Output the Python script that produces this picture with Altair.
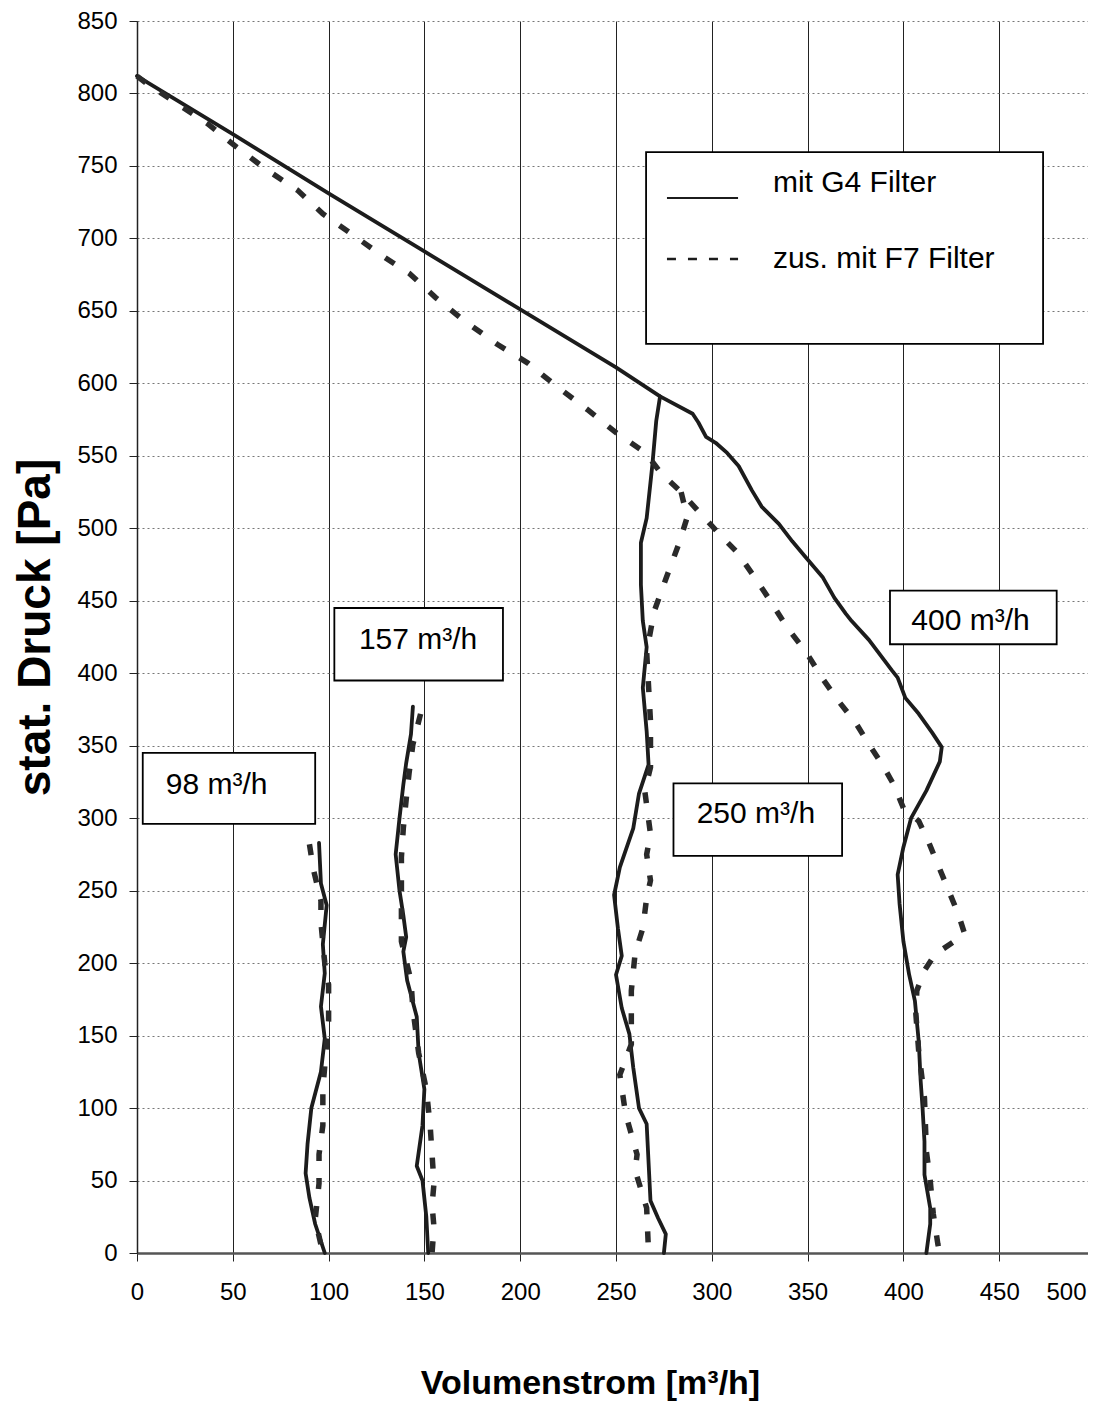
import altair as alt
import pandas as pd

# ---------------- data ----------------
# G4 filter (solid) - fan curve / 400 m3/h setting
g4_main_q = [0, 50, 100, 150, 200, 250, 273, 290, 293, 297, 302, 308, 314, 321, 326, 335, 342, 349, 358, 364, 370, 373,
             382, 394, 397, 401, 408, 415, 420, 419, 412, 404, 400, 397, 398, 400, 403, 406, 408, 409, 410, 411, 411,
             414, 414, 412]
g4_main_p = [812, 772, 731, 691, 651, 611, 591, 579, 573, 563, 559, 552, 543, 526, 515, 503, 491, 480, 466, 452, 441, 436,
             423, 402, 397, 383, 372, 359, 349, 339, 319, 300, 280, 261, 241, 215, 192, 174, 146, 119, 100, 77, 54,
             31, 20, 0]
# G4 250 m3/h
g4_250_q = [273, 271, 269, 266, 263, 263, 264, 266, 264, 266, 267, 262, 259, 252, 249, 251, 253, 250, 253, 257, 259, 262,
            266, 268, 272, 276, 275]
g4_250_p = [591, 574, 544, 507, 490, 461, 436, 418, 390, 360, 337, 317, 293, 266, 247, 224, 205, 192, 169, 151, 128, 100,
            89, 36, 24, 13, 0]
# G4 157 m3/h
g4_157_q = [144, 143, 140.5, 139, 137, 135, 137, 139, 140.5, 139, 141, 146, 147, 150, 149, 146, 149, 151, 152]
g4_157_p = [377, 358, 338, 323, 300, 275, 250, 233, 218, 208, 188, 163, 138, 113, 88, 60, 50, 25, 0]
# G4 98 m3/h
g4_98_q = [95, 96, 99, 97, 98, 96, 98, 96, 91, 89, 88, 90, 93, 98]
g4_98_p = [283, 255, 240, 213, 193, 170, 148, 125, 100, 75, 55, 38, 20, 0]

# additionally F7 filter (dashed) - fan curve / 400 m3/h setting
f7_main_q = [0, 5, 37, 52, 67, 84, 97, 111, 128, 142, 156, 171, 188, 204, 219, 235, 250, 265.5, 273.5, 284, 293.5, 304,
             313.5, 323, 331, 339.6, 349, 358, 366, 375, 382, 389, 395, 400, 408, 413, 418, 423, 428.6, 432, 416.5,
             411, 407, 406.5, 408, 411, 412, 414, 415.6, 418, 419]
f7_main_p = [812, 807, 779, 763, 748, 733, 717, 704, 688, 676, 659, 643, 627, 614, 598, 582, 566, 552, 538, 525, 511, 496,
             483, 465, 449, 431, 415, 396, 381, 366, 351, 337, 323, 307, 298, 284, 268, 252, 234, 220, 206,
             195, 181, 165, 139, 107, 70, 50, 27, 6, 0]
# F7 250 m3/h
f7_250_q = [284, 286, 287, 283, 276, 270, 266, 268, 268, 265, 268, 266, 268, 266, 264, 260, 258, 258, 258, 252, 255, 261,
            260, 266, 267]
f7_250_p = [525, 514, 507, 490, 465, 443, 415, 367, 335, 319, 289, 275, 257, 245, 224, 207, 181, 170, 144, 123, 96, 68,
            57, 31, 0]
# F7 157 m3/h
f7_157_q = [148, 144, 142, 140.5, 139, 138, 138, 138, 143, 144, 147, 151, 153, 154, 155, 154, 155, 154]
f7_157_p = [372, 351, 331, 313, 293, 273, 233, 215, 188, 168, 138, 113, 88, 68, 48, 33, 18, 0]
# F7 98 m3/h
f7_98_q = [90, 92, 96, 96, 98, 100, 100, 100, 99, 97, 97, 95, 95, 93, 97]
f7_98_p = [282, 265, 243, 228, 200, 185, 170, 160, 145, 113, 88, 68, 48, 23, 0]

# annotation boxes (data coordinates)
anno_text = ["98 m³/h", "157 m³/h", "250 m³/h", "400 m³/h"]
anno_q = [41.6, 146.7, 323, 435]
anno_p = [323, 423, 303, 436]
box_q1 = [3, 103, 280, 393]
box_q2 = [93, 191, 368, 480]
box_p1 = [296, 395, 274, 420]
box_p2 = [345, 445, 324, 457]

# legend
legend_labels = ["mit G4 Filter", "zus. mit F7 Filter"]
legend_box_q = [265.7, 472.9]
legend_box_p = [627.2, 759.6]
legend_sample_q = [276.6, 313.7]
legend_sample_p = [727.9, 685.8]
legend_text_q = 331.9
legend_text_p = [738.4, 686.0]

# ---------------- build tables ----------------
rows = []


def add(series, filt, qs, ps):
    assert len(qs) == len(ps), series
    for i, (q, p) in enumerate(zip(qs, ps)):
        rows.append({"series": series, "filter": filt, "q": q, "p": p, "i": i})


add("G4 main", legend_labels[0], g4_main_q, g4_main_p)
add("G4 250", legend_labels[0], g4_250_q, g4_250_p)
add("G4 157", legend_labels[0], g4_157_q, g4_157_p)
add("G4 98", legend_labels[0], g4_98_q, g4_98_p)
add("F7 main", legend_labels[1], f7_main_q, f7_main_p)
add("F7 250", legend_labels[1], f7_250_q, f7_250_p)
add("F7 157", legend_labels[1], f7_157_q, f7_157_p)
add("F7 98", legend_labels[1], f7_98_q, f7_98_p)
df = pd.DataFrame(rows)

anno = pd.DataFrame({"text": anno_text, "q": anno_q, "p": anno_p,
                     "q1": box_q1, "q2": box_q2, "p1": box_p1, "p2": box_p2})
leg_box = pd.DataFrame({"q1": [legend_box_q[0]], "q2": [legend_box_q[1]],
                        "p1": [legend_box_p[0]], "p2": [legend_box_p[1]]})
leg = pd.DataFrame({"label": legend_labels, "q1": [legend_sample_q[0]] * 2, "q2": [legend_sample_q[1]] * 2,
                    "ps": legend_sample_p, "qt": [legend_text_q] * 2, "pt": legend_text_p})

FONT = "Liberation Sans, Arial, Helvetica, sans-serif"
INK = "#1c1c1c"

xscale = alt.Scale(domain=[0, 500], nice=False, zero=False)
yscale = alt.Scale(domain=[0, 850], nice=False, zero=False)

x_axis = alt.Axis(values=list(range(0, 501, 50)), tickSize=8, labelPadding=19, labelFontSize=24,
                  labelFont=FONT, labelColor="black", labelFlush=False, labelOverlap=False, labelBound=False,
                  labelAlign={"expr": "datum.value >= 500 ? 'right' : 'center'"},
                  labelOffset={"expr": "datum.value >= 500 ? -9 : 0"},
                  grid=True, gridColor="#222222", gridWidth=1, domainColor="#555555", domainWidth=2.5,
                  tickColor="#222222", title="Volumenstrom [m³/h]", titleFont=FONT, titleFontSize=34,
                  titleFontWeight="bold", titleColor="black", titleX=453, titleY=130,
                  titleBaseline="middle", titleAlign="center")
y_axis = alt.Axis(values=list(range(0, 851, 50)), tickSize=8, labelPadding=12, labelFontSize=24,
                  labelFont=FONT, labelColor="black", labelFlush=False, labelOverlap=False, labelBound=False,
                  grid=True, gridColor="#777777", gridDash=[2, 3], gridWidth=1, domainColor="#222222",
                  domainWidth=1.5, tickColor="#222222", title="stat. Druck [Pa]", titleFont=FONT,
                  titleFontSize=46, titleFontWeight="bold", titleColor="black", titleAngle=270,
                  titleX=-102, titleY=606, titleBaseline="middle", titleAlign="center")

base = alt.Chart(df)

solid = base.transform_filter(alt.datum.filter == legend_labels[0]).mark_line(
    color=INK, strokeWidth=3.8, strokeJoin="round", strokeCap="round"
).encode(
    x=alt.X("q:Q", scale=xscale, axis=x_axis),
    y=alt.Y("p:Q", scale=yscale, axis=y_axis),
    detail="series:N",
    order="i:Q",
)

dashed = base.transform_filter(alt.datum.filter == legend_labels[1]).mark_line(
    color="#2a2a2a", strokeWidth=5.5, strokeDash=[11, 17]
).encode(
    x=alt.X("q:Q", scale=xscale),
    y=alt.Y("p:Q", scale=yscale),
    detail="series:N",
    order="i:Q",
)

boxes = alt.Chart(anno).mark_rect(fill="white", stroke="black", strokeWidth=1.8).encode(
    x=alt.X("q1:Q", scale=xscale), x2="q2:Q",
    y=alt.Y("p1:Q", scale=yscale), y2="p2:Q",
)
box_text = alt.Chart(anno).mark_text(font=FONT, fontSize=30, color="black", align="center",
                                     baseline="middle").encode(
    x=alt.X("q:Q", scale=xscale), y=alt.Y("p:Q", scale=yscale), text="text:N"
)

legend_rect = alt.Chart(leg_box).mark_rect(fill="white", stroke="black", strokeWidth=1.8).encode(
    x=alt.X("q1:Q", scale=xscale), x2="q2:Q",
    y=alt.Y("p1:Q", scale=yscale), y2="p2:Q",
)
leg_solid = alt.Chart(leg).transform_filter(alt.datum.label == legend_labels[0]).mark_rule(
    color=INK, strokeWidth=2).encode(
    x=alt.X("q1:Q", scale=xscale), x2="q2:Q", y=alt.Y("ps:Q", scale=yscale)
)
leg_dash = alt.Chart(leg).transform_filter(alt.datum.label == legend_labels[1]).mark_rule(
    color=INK, strokeWidth=2.5, strokeDash=[9, 12]).encode(
    x=alt.X("q1:Q", scale=xscale), x2="q2:Q", y=alt.Y("ps:Q", scale=yscale)
)
leg_text = alt.Chart(leg).mark_text(font=FONT, fontSize=30, color="black", align="left",
                                    baseline="middle").encode(
    x=alt.X("qt:Q", scale=xscale), y=alt.Y("pt:Q", scale=yscale), text="label:N"
)

# plot area spans x=0..500 over 958 px; the right end runs to the page edge like the reference
chart = alt.layer(
    solid, dashed, boxes, box_text, legend_rect, leg_solid, leg_dash, leg_text
).properties(
    width=958, height=1232,
    padding={"left": 129, "top": 13, "right": -7, "bottom": 150},
    autosize=alt.AutoSizeParams(type="none"),
    background="white",
).configure_view(stroke=None)

chart.save("out.html", embed_options={"renderer": "svg", "actions": False})
